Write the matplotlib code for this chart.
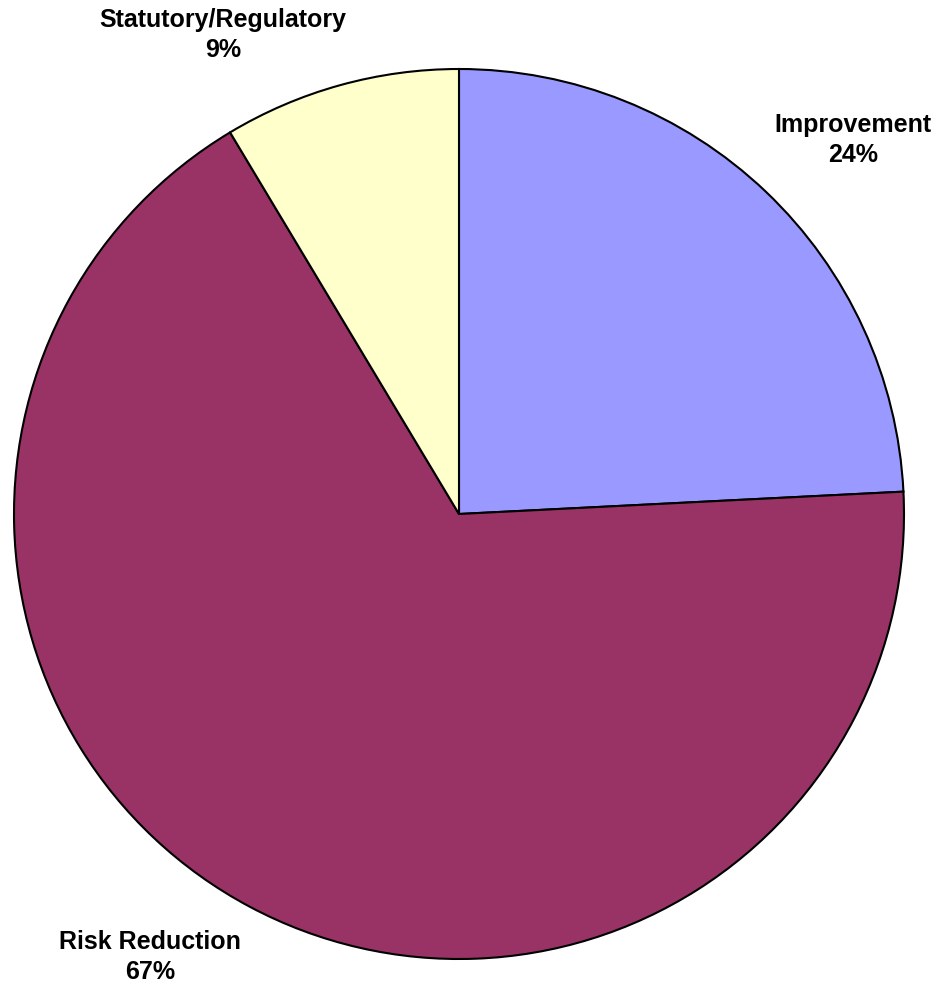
import matplotlib.pyplot as plt

plt.rcParams['font.family'] = ['Liberation Sans', 'DejaVu Sans']

# slices, clockwise from 12 o'clock
categories = ['Improvement', 'Risk Reduction', 'Statutory/Regulatory']
shares = [24.2, 67.2, 8.6]
colors = ['#9999FF', '#993366', '#FFFFCC']
# label centres, in units of the pie radius
label_pos = [(0.885, 0.840), (-0.694, -0.996), (-0.530, 1.076)]

fig = plt.figure(figsize=(9.39, 9.85), dpi=100)
W, H = 939, 985
cx, cy, r = 459, 514, 445
ax = fig.add_axes([(cx - r) / W, (H - cy - r) / H, 2 * r / W, 2 * r / H])

wedges, _ = ax.pie(shares, colors=colors, startangle=90, counterclock=False,
                   radius=1, wedgeprops=dict(edgecolor='black', linewidth=1.5))

for name, val, (x, y) in zip(categories, shares, label_pos):
    ax.text(x, y, '%s\n%.0f%%' % (name, val), ha='center', va='center',
            fontsize=18, fontweight='bold', linespacing=1.3, clip_on=False)

ax.set_xlim(-1, 1)
ax.set_ylim(-1, 1)
ax.set_aspect('equal')
ax.axis('off')

fig.savefig('out.png', dpi=100)
